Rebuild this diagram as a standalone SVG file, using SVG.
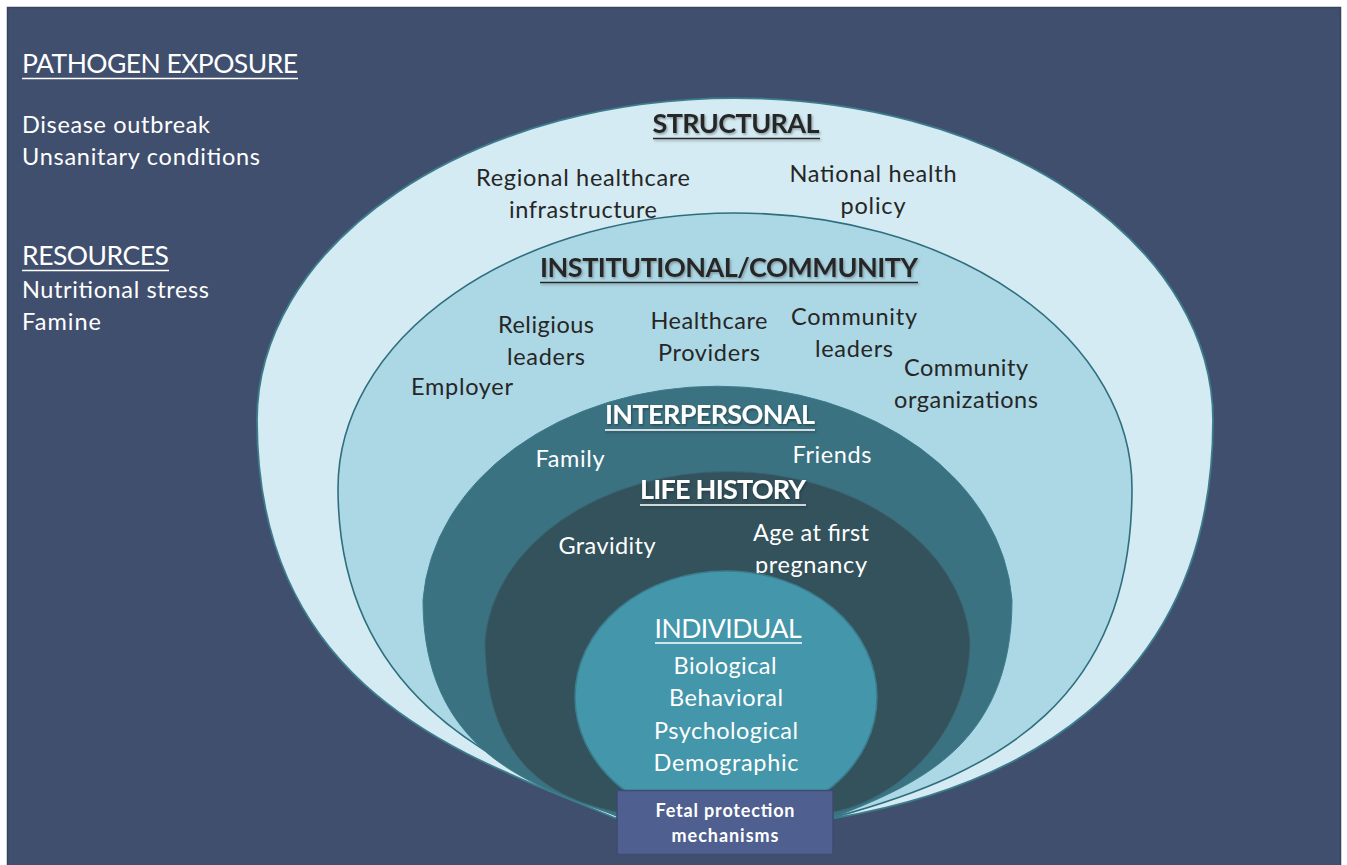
<svg xmlns="http://www.w3.org/2000/svg" width="1347" height="865" viewBox="0 0 1347 865">
  <defs>
    <filter id="shadowDark" x="-10%" y="-30%" width="120%" height="160%">
      <feDropShadow dx="1.2" dy="1.5" stdDeviation="0.9" flood-color="#6b7a80" flood-opacity="0.7"/>
    </filter>
    <filter id="shadowLight" x="-10%" y="-30%" width="120%" height="160%">
      <feDropShadow dx="1" dy="1.5" stdDeviation="1" flood-color="#1c2b30" flood-opacity="0.6"/>
    </filter>
  </defs>
  <style>
    text { font-family: Lato, "Open Sans", "Liberation Sans", sans-serif; }
    .side { fill: #ffffff; font-size: 23.5px; }
    .sideHead { fill: #ffffff; font-size: 26.5px; }
    .dark { fill: #262626; font-size: 23.5px; text-anchor: middle; }
    .light { fill: #ffffff; font-size: 23.5px; text-anchor: middle; }
    .titleDark { fill: #262626; font-size: 27px; font-weight: bold; text-anchor: middle; }
    .titleLight { fill: #ffffff; font-size: 27px; font-weight: bold; text-anchor: middle; }
    .titlePlain { fill: #ffffff; font-size: 26.5px; text-anchor: middle; }
    .ulDark { stroke: #262626; stroke-width: 1.6; }
    .ulLight { stroke: #ffffff; stroke-width: 1.6; }
    .box { fill: #ffffff; font-size: 18px; font-weight: bold; text-anchor: middle; }
  </style>

  <!-- page and panel -->
  <rect x="0" y="0" width="1347" height="865" fill="#ffffff"/>
  <rect x="7.5" y="7.5" width="1333" height="862" fill="#414f6e" stroke="#38445f" stroke-width="1.5"/>

  <!-- side notes -->
  <g id="pathogen-exposure">
    <text class="sideHead" x="22" y="73" textLength="276">PATHOGEN EXPOSURE</text>
    <line class="ulLight" x1="22" y1="78.5" x2="298" y2="78.5"/>
    <text class="side" x="22" y="133" textLength="188">Disease outbreak</text>
    <text class="side" x="22" y="165" textLength="238">Unsanitary conditions</text>
  </g>
  <g id="resources">
    <text class="sideHead" x="22" y="265" textLength="147">RESOURCES</text>
    <line class="ulLight" x1="22" y1="270.5" x2="169" y2="270.5"/>
    <text class="side" x="22" y="298" textLength="187">Nutritional stress</text>
    <text class="side" x="22" y="330" textLength="79">Famine</text>
  </g>

  <!-- nested levels, outermost first -->
  <g id="structural">
    <path d="M615,818 C480,760 257,700 257,420 A478,322 0 0 1 1213,420 C1213,700 1000,790 835,818 Z" fill="#d5ebf3" stroke="#3c7d8c" stroke-width="1.8"/>
    <g filter="url(#shadowDark)">
      <text class="titleDark" x="736" y="133" textLength="167">STRUCTURAL</text>
      <line class="ulDark" x1="653" y1="138.5" x2="820" y2="138.5"/>
    </g>
    <text class="dark" x="583" y="186" textLength="214">Regional healthcare</text>
    <text class="dark" x="583" y="218" textLength="148">infrastructure</text>
    <text class="dark" x="873" y="182" textLength="167">National health</text>
    <text class="dark" x="873" y="214" textLength="65">policy</text>
  </g>

  <g id="institutional-community">
    <path d="M617,816 C500,765 338,700 338,488 A397,275 0 0 1 1132,488 C1132,700 1000,772 835,817 Z" fill="#acd7e4" stroke="#2f6e7d" stroke-width="1.6"/>
    <g filter="url(#shadowDark)">
      <text class="titleDark" x="729" y="277" textLength="378">INSTITUTIONAL/COMMUNITY</text>
      <line class="ulDark" x1="540" y1="282.5" x2="918" y2="282.5"/>
    </g>
    <text class="dark" x="546" y="333" textLength="96">Religious</text>
    <text class="dark" x="546" y="365" textLength="78">leaders</text>
    <text class="dark" x="709" y="329" textLength="117">Healthcare</text>
    <text class="dark" x="709" y="361" textLength="102">Providers</text>
    <text class="dark" x="854" y="325" textLength="126">Community</text>
    <text class="dark" x="854" y="357" textLength="78">leaders</text>
    <text class="dark" x="966" y="376" textLength="124">Community</text>
    <text class="dark" x="966" y="408" textLength="144">organizations</text>
    <text class="dark" x="462" y="395" textLength="102">Employer</text>
  </g>

  <g id="interpersonal">
    <path d="M615,815 C530,786 423,750 423,600 A295,227 0 0 1 1012,600 C1012,750 910,786 835,817 Z" fill="#3a7282" stroke="#3b7d8d" stroke-width="1"/>
    <g filter="url(#shadowLight)">
      <text class="titleLight" x="710" y="424" textLength="210">INTERPERSONAL</text>
      <line class="ulLight" x1="605" y1="430" x2="815" y2="430"/>
    </g>
    <text class="light" x="570" y="467" textLength="69">Family</text>
    <text class="light" x="832" y="463" textLength="79">Friends</text>
  </g>

  <g id="life-history">
    <path d="M617,812 C560,800 485,770 485,640 A243,180 0 0 1 970,640 C970,740 890,802 833,812 Z" fill="#33525c" stroke="#3a6470" stroke-width="1"/>
    <g filter="url(#shadowLight)">
      <text class="titleLight" x="723" y="499" textLength="166">LIFE HISTORY</text>
      <line class="ulLight" x1="640" y1="505" x2="806" y2="505"/>
    </g>
    <text class="light" x="607" y="554" textLength="97">Gravidity</text>
    <text class="light" x="811" y="541" textLength="116">Age at first</text>
    <text class="light" x="811" y="573" textLength="112">pregnancy</text>
  </g>

  <g id="individual">
    <ellipse cx="726" cy="697" rx="151" ry="126" fill="#4496aa" stroke="#3a7d8e" stroke-width="1.5"/>
    <text class="titlePlain" x="728" y="638" textLength="147">INDIVIDUAL</text>
    <line class="ulLight" x1="655" y1="643" x2="802" y2="643"/>
    <text class="light" x="725" y="674" textLength="103">Biological</text>
    <text class="light" x="726" y="706" textLength="114">Behavioral</text>
    <text class="light" x="726" y="739" textLength="144">Psychological</text>
    <text class="light" x="726" y="771" textLength="145">Demographic</text>
  </g>

  <g id="fetal-protection">
    <rect x="617" y="790.5" width="216" height="64" fill="#4f5f8f" stroke="#3e4b72" stroke-width="1.5"/>
    <text class="box" x="725" y="817" textLength="139">Fetal protection</text>
    <text class="box" x="725" y="842" textLength="107">mechanisms</text>
  </g>

  <!-- no connectors in this figure -->
  <g id="connectors"/>
</svg>
